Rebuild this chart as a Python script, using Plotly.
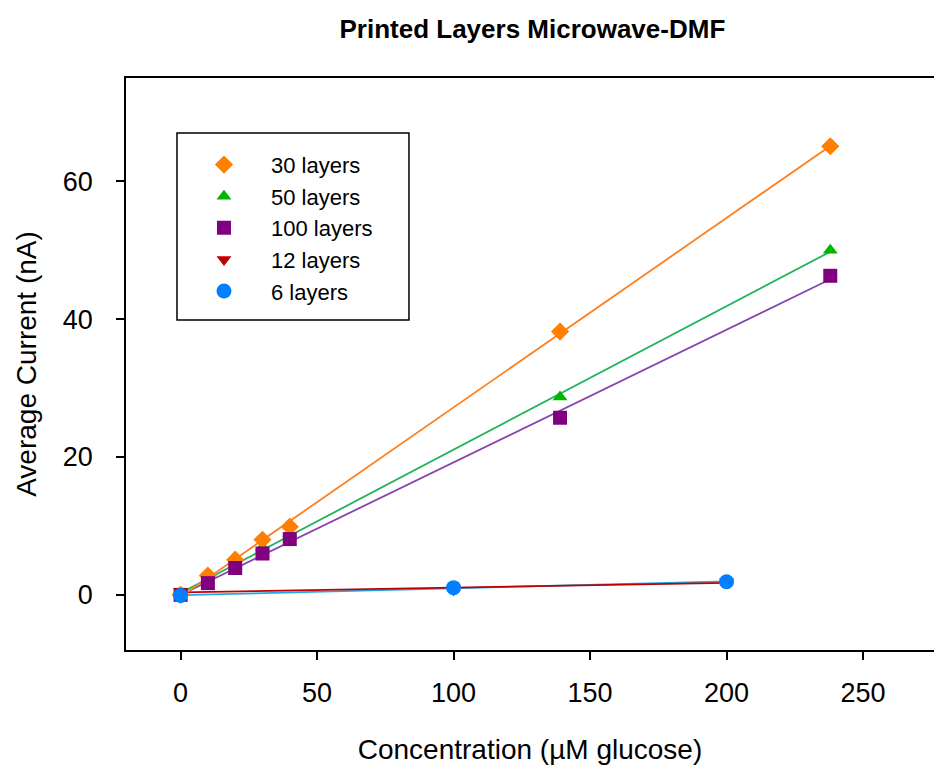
import numpy as np
import plotly.graph_objects as go

# ---- data ----
x_main = [0, 10, 20, 30, 40, 139, 238]
y_30 = [0.0, 2.8, 5.1, 8.0, 9.9, 38.2, 65.1]
y_50 = [0.3, 2.0, 4.3, 6.9, 8.9, 28.7, 50.0]
y_100 = [0.0, 1.7, 3.9, 6.0, 8.1, 25.7, 46.3]
x_low = [0, 100, 200]
y_12 = [0.5, 0.75, 1.9]
y_6 = [-0.1, 1.05, 1.9]

# name, x, y, marker symbol, marker color, line color, marker size, legend rank
s30 = ("30 layers", x_main, y_30, "diamond", "#ff8000", "#ff7f1e", 14, 1)
s50 = ("50 layers", x_main, y_50, "triangle-up", "#00b400", "#22b35a", 13, 2)
s100 = ("100 layers", x_main, y_100, "square", "#800080", "#8544b0", 14, 3)
s12 = ("12 layers", x_low, y_12, "triangle-down", "#c00000", "#c00000", 13, 4)
s6 = ("6 layers", x_low, y_6, "circle", "#0080ff", "#22a8e8", 15, 5)

line_order = [s6, s12, s100, s50, s30]
marker_order = [s50, s30, s100, s12, s6]

FONT = "Liberation Sans, Arial, sans-serif"

fig = go.Figure()

# regression lines
for name, xs, ys, sym, mc, lc, ms, rank in line_order:
    slope, icpt = np.polyfit(xs, ys, 1)
    xl = [min(xs), max(xs)]
    yl = [icpt + slope * v for v in xl]
    fig.add_trace(go.Scatter(x=xl, y=yl, mode="lines",
                             line=dict(color=lc, width=1.8),
                             showlegend=False, hoverinfo="skip"))

# markers
for name, xs, ys, sym, mc, lc, ms, rank in marker_order:
    fig.add_trace(go.Scatter(x=xs, y=ys, mode="markers", name=name,
                             legendrank=rank,
                             marker=dict(symbol=sym, color=mc, size=ms,
                                         line=dict(width=0))))

# legend frame
fig.add_shape(type="rect", xref="paper", yref="paper",
              x0=0.0631, x1=0.3502, y0=0.5769, y1=0.9038,
              line=dict(color="black", width=1.5), fillcolor="white",
              layer="below")

fig.update_layout(
    width=934, height=770,
    margin=dict(l=126, r=0, t=78, b=120),
    plot_bgcolor="white", paper_bgcolor="white",
    font=dict(family=FONT, color="black"),
    title=dict(text="<b>Printed Layers Microwave-DMF</b>",
               font=dict(size=26, family=FONT, color="black"),
               x=0.57, xanchor="center", y=0.962, yanchor="middle"),
    legend=dict(x=0.0631, y=0.885, xanchor="left", yanchor="top",
                borderwidth=0, bgcolor="rgba(0,0,0,0)",
                font=dict(size=22, family=FONT, color="black"),
                itemwidth=84, tracegroupgap=0),
    showlegend=True,
)

fig.update_xaxes(range=[-20, 276], tickvals=[0, 50, 100, 150, 200, 250],
                 showgrid=False, zeroline=False,
                 showline=True, linecolor="black", linewidth=1.5, mirror=True,
                 ticks="outside", ticklen=8, tickwidth=1.5, tickcolor="black",
                 tickfont=dict(size=27, family=FONT), ticklabelstandoff=10,
                 title=dict(text="Concentration (µM glucose)",
                            font=dict(size=28, family=FONT), standoff=32))
fig.update_yaxes(range=[-8, 75], tickvals=[0, 20, 40, 60],
                 showgrid=False, zeroline=False,
                 showline=True, linecolor="black", linewidth=1.5, mirror=False,
                 ticks="outside", ticklen=8, tickwidth=1.5, tickcolor="black",
                 tickfont=dict(size=27, family=FONT), ticklabelstandoff=18,
                 title=dict(text="Average Current (nA)",
                            font=dict(size=28, family=FONT), standoff=18))

fig.write_html("out.html")
